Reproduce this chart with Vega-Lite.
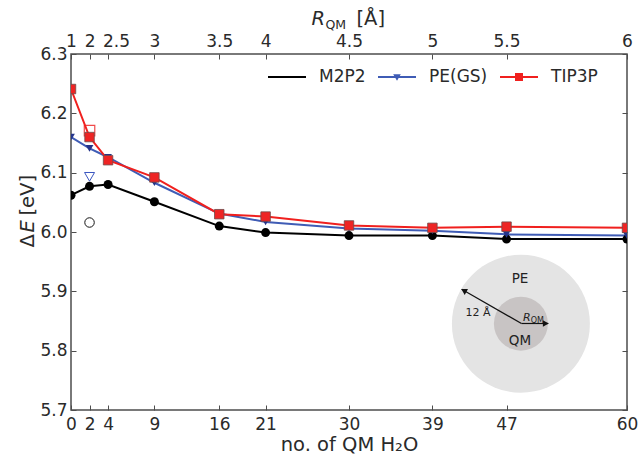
{
  "$schema": "https://vega.github.io/schema/vega-lite/v6.json",
  "width": 556,
  "height": 356,
  "autosize": {"type": "none"},
  "padding": {"left": 71, "top": 54, "right": 13, "bottom": 46},
  "background": "white",
  "config": {
    "view": {"stroke": "#4d4d4d", "strokeWidth": 1.5},
    "font": "DejaVu Sans",
    "axis": {
      "grid": false, "domain": false, "tickColor": "#4d4d4d", "tickSize": -5, "tickWidth": 1,
      "labelFontSize": 17, "labelColor": "#2a2a2a", "labelFont": "DejaVu Sans",
      "titleFontSize": 19.5, "titleFontWeight": "normal", "titleColor": "#2a2a2a", "titleFont": "DejaVu Sans",
      "labelFlush": false, "labelOverlap": false, "labelBound": false
    }
  },
  "datasets": {
    "main": [
      {"n": 0, "series": "M2P2", "dE": 6.062}, {"n": 2, "series": "M2P2", "dE": 6.077}, {"n": 4, "series": "M2P2", "dE": 6.080},
      {"n": 9, "series": "M2P2", "dE": 6.051}, {"n": 16, "series": "M2P2", "dE": 6.010}, {"n": 21, "series": "M2P2", "dE": 5.999},
      {"n": 30, "series": "M2P2", "dE": 5.994}, {"n": 39, "series": "M2P2", "dE": 5.994}, {"n": 47, "series": "M2P2", "dE": 5.988},
      {"n": 60, "series": "M2P2", "dE": 5.988},
      {"n": 0, "series": "PE(GS)", "dE": 6.160}, {"n": 2, "series": "PE(GS)", "dE": 6.141}, {"n": 4, "series": "PE(GS)", "dE": 6.126},
      {"n": 9, "series": "PE(GS)", "dE": 6.083}, {"n": 16, "series": "PE(GS)", "dE": 6.031}, {"n": 21, "series": "PE(GS)", "dE": 6.017},
      {"n": 30, "series": "PE(GS)", "dE": 6.006}, {"n": 39, "series": "PE(GS)", "dE": 6.002}, {"n": 47, "series": "PE(GS)", "dE": 5.996},
      {"n": 60, "series": "PE(GS)", "dE": 5.994},
      {"n": 0, "series": "TIP3P", "dE": 6.241}, {"n": 2, "series": "TIP3P", "dE": 6.160}, {"n": 4, "series": "TIP3P", "dE": 6.121},
      {"n": 9, "series": "TIP3P", "dE": 6.092}, {"n": 16, "series": "TIP3P", "dE": 6.030}, {"n": 21, "series": "TIP3P", "dE": 6.026},
      {"n": 30, "series": "TIP3P", "dE": 6.011}, {"n": 39, "series": "TIP3P", "dE": 6.007}, {"n": 47, "series": "TIP3P", "dE": 6.009},
      {"n": 60, "series": "TIP3P", "dE": 6.007}
    ],
    "open": [
      {"n": 2, "series": "M2P2", "dE": 6.016},
      {"n": 2, "series": "PE(GS)", "dE": 6.093},
      {"n": 2, "series": "TIP3P", "dE": 6.171}
    ],
    "inset": [{"n": 48.55, "dE": 5.8455}],
    "arrows": [
      {"name": "outer", "n": 48.61, "dE": 5.8458, "n2": 42.16, "dE2": 5.9034},
      {"name": "inner", "n": 48.61, "dE": 5.8458, "n2": 51.51, "dE2": 5.8458}
    ],
    "labels": [
      {"name": "PE", "text": "PE", "n": 48.45, "dE": 5.9205},
      {"name": "QM", "text": "QM", "n": 48.45, "dE": 5.817},
      {"name": "12", "text": "12 Å", "n": 43.92, "dE": 5.863},
      {"name": "R", "text": "R", "n": 49.6, "dE": 5.8546},
      {"name": "sub", "text": "QM", "n": 49.6, "dE": 5.850}
    ]
  },
  "layer": [
    {
      "data": {"name": "inset"},
      "mark": {"type": "point", "shape": "circle", "filled": true, "size": 19044, "color": "#e4e4e4", "opacity": 1, "strokeWidth": 0},
      "encoding": {
        "x": {"field": "n", "type": "quantitative", "scale": {"domain": [0, 60], "nice": false, "zero": false}, "axis": null},
        "y": {"field": "dE", "type": "quantitative", "scale": {"domain": [5.7, 6.3], "nice": false, "zero": false}, "axis": null}
      }
    },
    {
      "data": {"name": "inset"},
      "mark": {"type": "point", "shape": "circle", "filled": true, "size": 2916, "color": "#c8c4c4", "opacity": 1, "strokeWidth": 0},
      "encoding": {
        "x": {"field": "n", "type": "quantitative", "axis": null},
        "y": {"field": "dE", "type": "quantitative", "axis": null}
      }
    },
    {
      "data": {"name": "arrows"},
      "mark": {"type": "rule", "color": "#111111", "strokeWidth": 1.2},
      "encoding": {
        "x": {"field": "n", "type": "quantitative", "axis": null},
        "y": {"field": "dE", "type": "quantitative", "axis": null},
        "x2": {"field": "n2"},
        "y2": {"field": "dE2"}
      }
    },
    {
      "data": {"name": "arrows"},
      "transform": [{"filter": "datum.name === 'outer'"}],
      "mark": {"type": "point", "shape": "triangle", "filled": true, "size": 45, "color": "#111111", "opacity": 1, "angle": 299.4, "xOffset": 3.0, "yOffset": 1.7},
      "encoding": {
        "x": {"field": "n2", "type": "quantitative", "axis": null},
        "y": {"field": "dE2", "type": "quantitative", "axis": null}
      }
    },
    {
      "data": {"name": "arrows"},
      "transform": [{"filter": "datum.name === 'inner'"}],
      "mark": {"type": "point", "shape": "triangle", "filled": true, "size": 45, "color": "#111111", "opacity": 1, "angle": 90, "xOffset": -3.5},
      "encoding": {
        "x": {"field": "n2", "type": "quantitative", "axis": null},
        "y": {"field": "dE2", "type": "quantitative", "axis": null}
      }
    },
    {
      "data": {"name": "labels"},
      "transform": [{"filter": "datum.name === 'PE' || datum.name === 'QM'"}],
      "mark": {"type": "text", "fontSize": 13.5, "color": "#222222", "align": "center", "baseline": "middle"},
      "encoding": {
        "x": {"field": "n", "type": "quantitative", "axis": null},
        "y": {"field": "dE", "type": "quantitative", "axis": null},
        "text": {"field": "text"}
      }
    },
    {
      "data": {"name": "labels"},
      "transform": [{"filter": "datum.name === '12'"}],
      "mark": {"type": "text", "fontSize": 11, "color": "#222222", "align": "center", "baseline": "middle"},
      "encoding": {
        "x": {"field": "n", "type": "quantitative", "axis": null},
        "y": {"field": "dE", "type": "quantitative", "axis": null},
        "text": {"field": "text"}
      }
    },
    {
      "data": {"name": "labels"},
      "transform": [{"filter": "datum.name === 'R'"}],
      "mark": {"type": "text", "fontSize": 11, "fontStyle": "italic", "color": "#222222", "align": "right", "baseline": "middle"},
      "encoding": {
        "x": {"field": "n", "type": "quantitative", "axis": null},
        "y": {"field": "dE", "type": "quantitative", "axis": null},
        "text": {"field": "text"}
      }
    },
    {
      "data": {"name": "labels"},
      "transform": [{"filter": "datum.name === 'sub'"}],
      "mark": {"type": "text", "fontSize": 8, "color": "#222222", "align": "left", "baseline": "middle"},
      "encoding": {
        "x": {"field": "n", "type": "quantitative", "axis": null},
        "y": {"field": "dE", "type": "quantitative", "axis": null},
        "text": {"field": "text"}
      }
    },
    {
      "data": {"name": "open"},
      "transform": [{"filter": "datum.series === 'M2P2'"}],
      "mark": {"type": "point", "shape": "circle", "filled": false, "size": 90, "color": "#111111", "strokeWidth": 1, "opacity": 1},
      "encoding": {
        "x": {"field": "n", "type": "quantitative", "axis": null},
        "y": {"field": "dE", "type": "quantitative", "axis": null}
      }
    },
    {
      "data": {"name": "open"},
      "transform": [{"filter": "datum.series === 'PE(GS)'"}],
      "mark": {"type": "point", "shape": "triangle-down", "filled": false, "size": 100, "color": "#3a55c0", "strokeWidth": 1, "opacity": 1},
      "encoding": {
        "x": {"field": "n", "type": "quantitative", "axis": null},
        "y": {"field": "dE", "type": "quantitative", "axis": null}
      }
    },
    {
      "data": {"name": "open"},
      "transform": [{"filter": "datum.series === 'TIP3P'"}],
      "mark": {"type": "point", "shape": "square", "filled": false, "size": 110, "color": "#f04a4a", "strokeWidth": 1.2, "opacity": 1},
      "encoding": {
        "x": {"field": "n", "type": "quantitative", "axis": null},
        "y": {"field": "dE", "type": "quantitative", "axis": null}
      }
    },
    {
      "data": {"name": "main"},
      "transform": [{"filter": "datum.series === 'M2P2'"}],
      "mark": {"type": "line", "color": "#000000", "strokeWidth": 2, "clip": true},
      "encoding": {
        "x": {"field": "n", "type": "quantitative", "title": "no. of QM H₂O",
          "axis": {"orient": "bottom", "values": [0, 2, 4, 9, 16, 21, 30, 39, 47, 60], "labelPadding": 11, "titlePadding": 3}},
        "y": {"field": "dE", "type": "quantitative", "title": "Δ",
          "axis": {"orient": "left", "values": [5.7, 5.8, 5.9, 6.0, 6.1, 6.2, 6.3], "format": ".1f", "labelPadding": 9,
            "titleX": -38, "titleY": 193, "titleAngle": -90, "titleAlign": "left", "titleBaseline": "alphabetic"}}
      }
    },
    {
      "data": {"name": "main"},
      "transform": [{"filter": "datum.series === 'PE(GS)'"}],
      "mark": {"type": "line", "color": "#3f5cb5", "strokeWidth": 2, "clip": true},
      "encoding": {
        "x": {"field": "n", "type": "quantitative", "axis": null},
        "y": {"field": "dE", "type": "quantitative", "axis": null}
      }
    },
    {
      "data": {"name": "main"},
      "transform": [{"filter": "datum.series === 'TIP3P'"}],
      "mark": {"type": "line", "color": "#f0201e", "strokeWidth": 2, "clip": true},
      "encoding": {
        "x": {"field": "n", "type": "quantitative", "axis": null},
        "y": {"field": "dE", "type": "quantitative", "axis": null}
      }
    },
    {
      "data": {"name": "main"},
      "transform": [{"filter": "datum.series === 'M2P2'"}],
      "mark": {"type": "point", "shape": "circle", "filled": true, "size": 81, "color": "#000000", "opacity": 1, "clip": true},
      "encoding": {
        "x": {"field": "n", "type": "quantitative", "title": "QM",
          "axis": {"orient": "top", "ticks": false, "labels": false, "titleFontSize": 12.5, "titleX": 254, "titleY": -25.5, "titleAlign": "left", "titleBaseline": "alphabetic", "titleAngle": 0}},
        "y": {"field": "dE", "type": "quantitative", "title": "E",
          "axis": {"orient": "left", "ticks": false, "labels": false, "titleFontStyle": "italic",
            "titleX": -38, "titleY": 178, "titleAngle": -90, "titleAlign": "left", "titleBaseline": "alphabetic"}}
      }
    },
    {
      "data": {"name": "main"},
      "transform": [{"filter": "datum.series === 'PE(GS)'"}],
      "mark": {"type": "point", "shape": "triangle-down", "filled": true, "size": 60, "color": "#25348a", "opacity": 1, "clip": true},
      "encoding": {
        "x": {"field": "n", "type": "quantitative", "title": "[Å]",
          "axis": {"orient": "top", "ticks": false, "labels": false, "titleX": 285, "titleY": -30, "titleAlign": "left", "titleBaseline": "alphabetic", "titleAngle": 0}},
        "y": {"field": "dE", "type": "quantitative", "title": "[eV]",
          "axis": {"orient": "left", "ticks": false, "labels": false,
            "titleX": -38, "titleY": 161, "titleAngle": -90, "titleAlign": "left", "titleBaseline": "alphabetic"}}
      }
    },
    {
      "data": {"name": "main"},
      "transform": [{"filter": "datum.series === 'TIP3P'"}],
      "mark": {"type": "point", "shape": "square", "filled": true, "size": 90, "fill": "#ee2424", "stroke": "#6e4a4a", "strokeWidth": 0.8, "opacity": 1, "clip": true},
      "encoding": {
        "x": {"field": "n", "type": "quantitative", "axis": null},
        "y": {"field": "dE", "type": "quantitative", "axis": null}
      }
    },
    {
      "data": {"name": "main"},
      "transform": [{"filter": "false"}],
      "mark": {"type": "point", "filled": true, "opacity": 1},
      "encoding": {
        "x": {"field": "n", "type": "quantitative", "title": "R",
          "axis": {"orient": "top", "values": [0, 2, 4, 9, 16, 21, 30, 39, 47, 60], "labelPadding": 9,
            "labelExpr": "['1','2','2.5','3','3.5','4','4.5','5','5.5','6'][indexof([0,2,4,9,16,21,30,39,47,60], datum.value)]",
            "labelOffset": {"condition": {"test": "datum.value === 4", "value": 8}, "value": 0},
            "titleFontStyle": "italic", "titleX": 240, "titleY": -30, "titleAlign": "left", "titleBaseline": "alphabetic", "titleAngle": 0}},
        "y": {"field": "dE", "type": "quantitative",
          "axis": {"orient": "right", "values": [5.7, 5.8, 5.9, 6.0, 6.1, 6.2, 6.3], "labels": false, "title": null}},
        "color": {"field": "series", "type": "nominal",
          "scale": {"domain": ["M2P2", "PE(GS)", "TIP3P"], "range": ["#000000", "#3f5cb5", "#f0201e"]},
          "legend": {"orient": "none", "legendX": 197, "legendY": 4, "direction": "horizontal", "title": null,
            "labelFontSize": 17, "labelColor": "#2a2a2a", "labelFont": "DejaVu Sans", "symbolSize": 1444, "symbolStrokeWidth": 0,
            "labelOffset": 13, "columnPadding": 12, "padding": 0}},
        "shape": {"field": "series", "type": "nominal",
          "scale": {"domain": ["M2P2", "PE(GS)", "TIP3P"], "range": [
            "M-1,-0.055H1V0.055H-1Z",
            "M-1,-0.055H1V0.055H-1Z M-0.2,-0.15H0.2L0,0.2Z",
            "M-1,-0.055H1V0.055H-1Z M-0.21,-0.21H0.21V0.21H-0.21Z"]},
          "legend": {"orient": "none", "legendX": 197, "legendY": 4, "direction": "horizontal", "title": null,
            "labelFontSize": 17, "labelColor": "#2a2a2a", "labelFont": "DejaVu Sans", "symbolSize": 1444, "symbolStrokeWidth": 0,
            "labelOffset": 13, "columnPadding": 12, "padding": 0}}
      }
    }
  ],
  "resolve": {"axis": {"x": "independent", "y": "independent"}}
}
